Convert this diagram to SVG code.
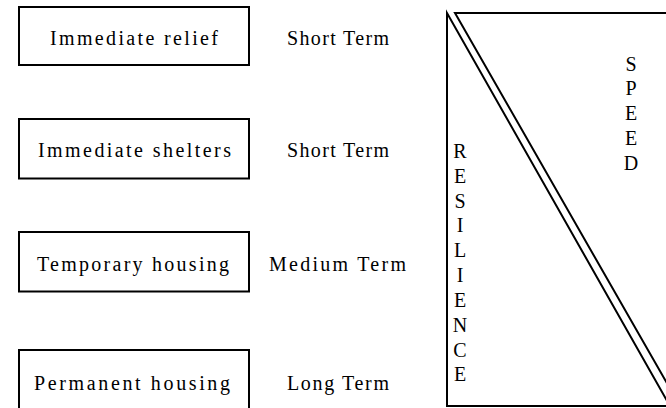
<svg xmlns="http://www.w3.org/2000/svg" width="666" height="408" viewBox="0 0 666 408">
<style>
.box{fill:#fff;stroke:#000;stroke-width:2}
.t{font-family:"Liberation Serif","Times New Roman",serif;font-size:20px;fill:#000}
.v{font-family:"Liberation Serif","Times New Roman",serif;font-size:20px;fill:#000;text-anchor:middle}
.tri{fill:none;stroke:#000;stroke-width:2;stroke-linejoin:miter}
</style>
<rect width="666" height="408" fill="#fff"/>
<g id="node-relief">
<rect class="box" x="19" y="7" width="230" height="58"/>
<text class="t" x="50" y="45" textLength="168" lengthAdjust="spacing">Immediate relief</text>
</g>
<g id="label-short1"><text class="t" x="287" y="45" textLength="102" lengthAdjust="spacing">Short Term</text></g>
<g id="node-shelters">
<rect class="box" x="19" y="119" width="230" height="59.5"/>
<text class="t" x="38" y="157" textLength="193" lengthAdjust="spacing">Immediate shelters</text>
</g>
<g id="label-short2"><text class="t" x="287" y="157" textLength="102" lengthAdjust="spacing">Short Term</text></g>
<g id="node-temporary">
<rect class="box" x="19" y="232" width="230" height="59.5"/>
<text class="t" x="37" y="271" textLength="192" lengthAdjust="spacing">Temporary housing</text>
</g>
<g id="label-medium"><text class="t" x="269" y="271" textLength="137" lengthAdjust="spacing">Medium Term</text></g>
<g id="node-permanent">
<rect class="box" x="19" y="350" width="230" height="62"/>
<text class="t" x="34" y="390" textLength="196" lengthAdjust="spacing">Permanent housing</text>
</g>
<g id="label-long"><text class="t" x="287" y="390" textLength="102" lengthAdjust="spacing">Long Term</text></g>
<g id="connectors"></g>
<g id="resilience">
<polygon class="tri" points="447,13 447,406 670,406"/>
<text class="v" x="460" y="158">R</text>
<text class="v" x="460" y="183">E</text>
<text class="v" x="460" y="208">S</text>
<text class="v" x="460" y="232">I</text>
<text class="v" x="460" y="257">L</text>
<text class="v" x="460" y="282">I</text>
<text class="v" x="460" y="307">E</text>
<text class="v" x="460" y="332">N</text>
<text class="v" x="460" y="357">C</text>
<text class="v" x="460" y="381">E</text>
</g>
<g id="speed">
<polygon class="tri" points="455,13 680,13 680,406"/>
<text class="v" x="631" y="71">S</text>
<text class="v" x="631" y="95">P</text>
<text class="v" x="631" y="120">E</text>
<text class="v" x="631" y="145">E</text>
<text class="v" x="631" y="170">D</text>
</g>
</svg>
